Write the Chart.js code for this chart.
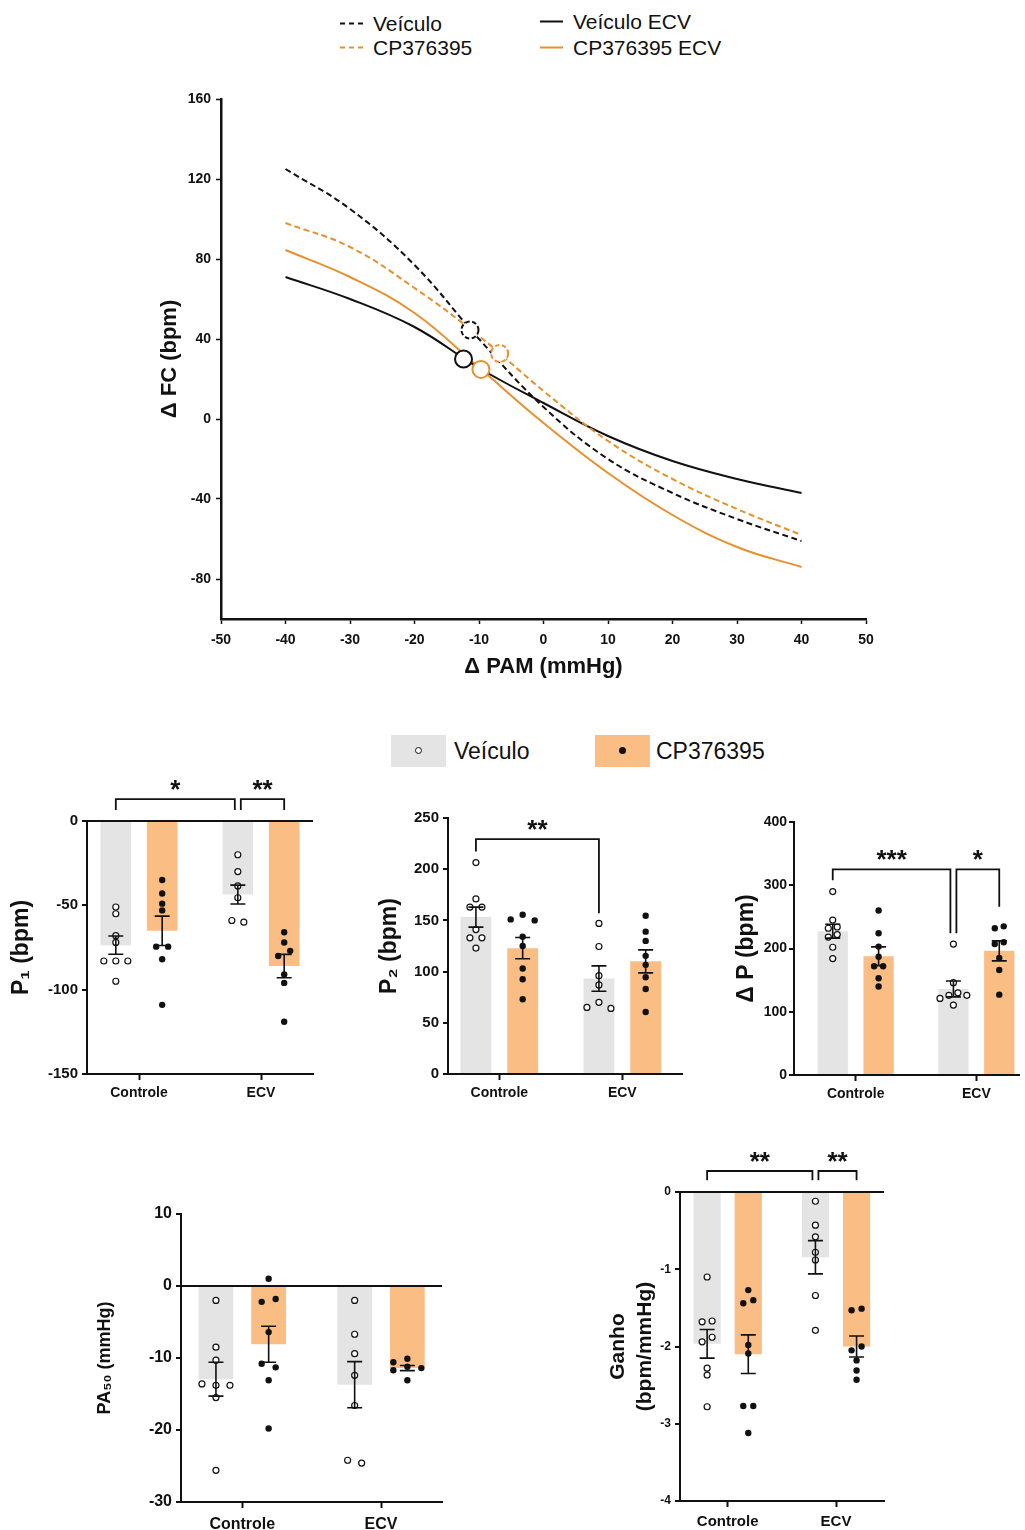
<!DOCTYPE html>
<html lang="pt">
<head>
<meta charset="UTF-8">
<title>Barorreflexo – Veículo vs CP376395</title>
<script src="https://cdn.jsdelivr.net/npm/chart.js"></script>
<style>
  body { margin: 0; background: #fff; }
  #page { position: relative; width: 1025px; height: 1530px; overflow: hidden;
          font-family: "Liberation Sans", Arial, Helvetica, sans-serif; color: #111; }
  canvas { position: absolute; }
  .leg { position: absolute; transform: translateY(-50%); display: flex; align-items: center;
         font-size: 21px; line-height: 1; white-space: nowrap; }
  .leg svg { margin-right: 8px; }
  .sw { position: absolute; width: 55px; height: 32px; }
  .sw i { position: absolute; left: 24px; top: 12px; width: 7px; height: 7px; border-radius: 50%; box-sizing: border-box; }
  .txt2 { position: absolute; transform: translateY(-50%); font-size: 23px; line-height: 1; white-space: nowrap; }
</style>
</head>
<body>
<div id="page">
  <!-- legenda das curvas -->
  <div class="leg" style="left:340px;top:23px"><svg width="25" height="4"><line x1="0" y1="2" x2="25" y2="2" stroke="#111" stroke-width="2" stroke-dasharray="5 4"/></svg><span>Veículo</span></div>
  <div class="leg" style="left:340px;top:47px"><svg width="25" height="4"><line x1="0" y1="2" x2="25" y2="2" stroke="#E8902E" stroke-width="2" stroke-dasharray="5 4"/></svg><span>CP376395</span></div>
  <div class="leg" style="left:540px;top:21px"><svg width="23" height="4" style="margin-right:10px"><line x1="0" y1="2" x2="23" y2="2" stroke="#111" stroke-width="2"/></svg><span>Veículo ECV</span></div>
  <div class="leg" style="left:540px;top:47px"><svg width="23" height="4" style="margin-right:10px"><line x1="0" y1="2" x2="23" y2="2" stroke="#E8902E" stroke-width="2"/></svg><span>CP376395 ECV</span></div>

  <canvas id="curvas"></canvas>

  <!-- legenda das barras -->
  <div class="sw" style="left:391px;top:735px;background:#E4E4E4"><i style="border:1.3px solid #111;background:#fff"></i></div>
  <span class="txt2" style="left:454px;top:751px">Veículo</span>
  <div class="sw" style="left:595px;top:735px;background:#FABE84"><i style="background:#111"></i></div>
  <span class="txt2" style="left:656px;top:751px">CP376395</span>

  <canvas id="p1"></canvas>
  <canvas id="p2"></canvas>
  <canvas id="dp"></canvas>
  <canvas id="pa50"></canvas>
  <canvas id="ganho"></canvas>
</div>

<script>
// ---- curvas sigmoides (ΔFC x ΔPAM) ----
const pamX = [-40, -30, -20, -10, 0, 10, 20, 30, 40];
const fcVeiculo = [125, 105, 77, 40, 6, -20, -37, -50, -61];
const fcCp = [98, 86, 65.5, 41.5, 14, -11, -30, -45, -58];
const fcVeiculoEcv = [71, 60, 46, 25.5, 8, -8.5, -21, -30, -37];
const fcCpEcv = [84.5, 71, 53, 25.7, -2, -27, -48, -64, -74];
const pa50Curva = [-11.4, -6.8, -12.4, -9.7];
const fc50Curva = [44.5, 32.8, 30, 24.8];
const fcTicks = [-80, -40, 0, 40, 80, 120, 160];

// ---- barras: média, EPM e animais (Controle, ECV) ----
const grupos = ['Controle', 'ECV'];

const p1Veiculo = [-73.6, -43.6];
const p1VeiculoEpm = [5.4, 5.6];
const p1Cp = [-65.1, -86.0];
const p1CpEpm = [8.7, 6.9];
const p1VeiculoAnimais = [[-51, -55, -68, -72, -83, -83, -83, -95], [-20, -30, -38.5, -45.5, -60, -59]];
const p1CpAnimais = [[-35, -43, -49, -53, -74.5, -74.5, -82, -109], [-66, -72, -77, -80, -91, -96, -119]];

const p2Veiculo = [153.2, 93.2];
const p2VeiculoEpm = [9.8, 12.4];
const p2Cp = [122.9, 110.0];
const p2CpEpm = [10.4, 11.2];
const p2VeiculoAnimais = [[206.5, 171, 163, 163, 141, 133, 133, 123], [147, 124.5, 96, 87, 70, 65, 64]];
const p2CpAnimais = [[155.5, 151, 150, 134, 125, 103, 92.6, 73], [154.5, 139, 130, 115.4, 106.6, 94.5, 83, 60.6]];

const dpVeiculo = [227.4, 136];
const dpVeiculoEpm = [11, 12.5];
const dpCp = [187.8, 196.3];
const dpCpEpm = [14.8, 15.8];
const dpVeiculoAnimais = [[290, 245, 234, 232, 222, 218, 202, 184], [207, 146, 130, 126, 126, 121, 110.5]];
const dpCpAnimais = [[260, 224, 203, 187, 172, 172, 153, 140], [235, 232, 210, 207, 185, 166, 127]];

const paVeiculo = [-12.95, -13.7];
const paVeiculoEpm = [2.35, 3.2];
const paCp = [-8.1, -11.4];
const paCpEpm = [2.5, 0.35];
const paVeiculoAnimais = [[-2, -8.5, -10.3, -13.8, -13.6, -13.8, -15.5, -25.6], [-2, -6.7, -9.4, -12.4, -16.6, -24.6, -24.2]];
const paCpAnimais = [[1, -1.8, -2.2, -6.4, -11.3, -10.8, -13.1, -19.8], [-10.1, -10.6, -11.2, -11.4, -11.7, -13.1]];

const gVeiculo = [-1.965, -0.845];
const gVeiculoEpm = [0.185, 0.215];
const gCp = [-2.1, -2.0];
const gCpEpm = [0.25, 0.135];
const gVeiculoAnimais = [[-1.1, -1.67, -1.68, -1.88, -1.94, -2.28, -2.37, -2.78], [-0.12, -0.43, -0.58, -0.78, -0.88, -1.34, -1.79]];
const gCpAnimais = [[-1.27, -1.4, -1.44, -1.98, -2.09, -2.77, -2.77, -3.12], [-1.51, -1.53, -2.0, -2.05, -2.18, -2.31, -2.43]];

// barras: 0 = Veículo Controle, 1 = CP Controle, 2 = Veículo ECV, 3 = CP ECV
const p1Sig = [{ a: 0, b: 2, y: 13, legA: 6.5, legB: 6.5, text: '*' }, { a: 2, b: 3, y: 13, legA: 6.5, legB: 6.5, text: '**' }];
const p2Sig = [{ a: 0, b: 2, y: 229.4, legA: 217.3, legB: 157, text: '**' }];
const dpSig = [{ a: 0, b: 2, y: 325, legA: 308, legB: 224, text: '***' }, { a: 2, b: 3, y: 325, legA: 224, legB: 266, text: '*' }];
const gSig = [{ a: 0, b: 2, y: 0.272, legA: 0.151, legB: 0.151, text: '**' }, { a: 2, b: 3, y: 0.272, legA: 0.151, legB: 0.151, text: '**' }];

const BLACK = '#111111';
const ORANGE = '#E8902E';
const GRAY = '#E4E4E4';
const PEACH = '#FABE84';
const CAT_PCT = 0.76;
const BAR_PCT = 0.66;

Chart.defaults.font.family = '"Liberation Sans", Arial, Helvetica, sans-serif';
Chart.defaults.color = BLACK;
Chart.defaults.animation = false;
Chart.defaults.events = [];
Chart.defaults.plugins.legend.display = false;
Chart.defaults.plugins.tooltip.enabled = false;

function place(canvas, left, top, width, height) {
  canvas.width = width;
  canvas.height = height;
  canvas.style.left = left + 'px';
  canvas.style.top = top + 'px';
}

// ---------- curve chart ----------
const dashedMarkers = {
  id: 'dashedMarkers',
  beforeDatasetDraw(chart, args) {
    const ds = chart.data.datasets[args.index];
    if (ds.markerDash) { chart.ctx.save(); chart.ctx.setLineDash(ds.markerDash); }
  },
  afterDatasetDraw(chart, args) {
    if (chart.data.datasets[args.index].markerDash) chart.ctx.restore();
  }
};

const curvas = [
  { label: 'Veículo', y: fcVeiculo, color: BLACK, dash: [6, 3.5] },
  { label: 'CP376395', y: fcCp, color: ORANGE, dash: [6, 3.5] },
  { label: 'Veículo ECV', y: fcVeiculoEcv, color: BLACK, dash: [] },
  { label: 'CP376395 ECV', y: fcCpEcv, color: ORANGE, dash: [] }
];

const curveSets = [];
curvas.forEach((c, i) => {
  curveSets.push({
    type: 'scatter', label: c.label + ' PA50',
    data: [{ x: pa50Curva[i], y: fc50Curva[i] }],
    pointRadius: 8.5, pointBorderWidth: 2, pointBorderColor: c.color, pointBackgroundColor: '#fff',
    markerDash: c.dash.length ? [4.5, 2.5] : null, order: 0
  });
});
curvas.forEach(c => {
  curveSets.push({
    type: 'line', label: c.label,
    data: pamX.map((x, k) => ({ x, y: c.y[k] })),
    borderColor: c.color, borderWidth: 2, borderDash: c.dash,
    pointRadius: 0, tension: 0.4, order: 1
  });
});

const curvasCanvas = document.getElementById('curvas');
place(curvasCanvas, 150, 80, 750, 600);
new Chart(curvasCanvas, {
  type: 'line',
  data: { datasets: curveSets },
  options: {
    responsive: false,
    layout: { padding: { left: 0, top: 19, right: 34, bottom: 0 } },
    scales: {
      x: {
        type: 'linear', min: -50, max: 50,
        ticks: { stepSize: 10, font: { size: 14, weight: 'bold' }, padding: 8, maxRotation: 0 },
        grid: { drawOnChartArea: false, tickLength: 5, tickColor: BLACK, tickWidth: 1.5 },
        border: { color: BLACK, width: 2.5 },
        title: { display: true, text: 'Δ PAM (mmHg)', font: { size: 22, weight: 'bold' }, padding: { top: 0, bottom: 0 } },
        afterFit: s => { s.height = 61; }
      },
      y: {
        type: 'linear', min: -100, max: 160,
        afterBuildTicks: s => { s.ticks = fcTicks.map(v => ({ value: v })); },
        ticks: { font: { size: 14, weight: 'bold' }, padding: 5 },
        grid: { drawOnChartArea: false, tickLength: 5, tickColor: BLACK, tickWidth: 1.5 },
        border: { color: BLACK, width: 2.5 },
        title: { display: true, text: 'Δ FC (bpm)', font: { size: 22, weight: 'bold' }, padding: { top: 6.8, bottom: 0 } },
        afterFit: s => { s.width = 71; }
      }
    }
  },
  plugins: [dashedMarkers]
});

// ---------- bar panels ----------
// spread animals that would overlap into side-by-side columns
function enxame(vals, pxY, step) {
  const GAP = 6.5;
  const pos = [];
  vals.forEach(v => {
    const py = -v * pxY;
    const col = [0, -1, 1, -2, 2, -3, 3].find(k => !pos.some(p => p.col === k && Math.abs(p.py - py) < GAP));
    pos.push({ py, col });
  });
  const idx = pos.map((_, i) => i).sort((a, b) => pos[a].py - pos[b].py);
  let run = [];
  const fechar = () => {
    const cols = run.map(i => pos[i].col);
    const shift = -(Math.min(...cols) + Math.max(...cols)) / 2;
    run.forEach(i => { pos[i].x = (pos[i].col + shift) * step; });
    run = [];
  };
  idx.forEach((i, n) => {
    if (n > 0 && pos[i].py - pos[idx[n - 1]].py >= GAP) fechar();
    run.push(i);
  });
  fechar();
  return pos.map(p => p.x);
}

const errorBars = {
  id: 'errorBars',
  afterDatasetsDraw(chart) {
    const ctx = chart.ctx;
    const ys = chart.scales.y;
    const CAP = 7.5;
    chart.data.datasets.forEach((ds, di) => {
      if (!ds.epm) return;
      chart.getDatasetMeta(di).data.forEach((bar, i) => {
        const m = ds.data[i].y;
        const top = ys.getPixelForValue(m + ds.epm[i]);
        const bot = ys.getPixelForValue(m - ds.epm[i]);
        ctx.save();
        ctx.strokeStyle = BLACK;
        ctx.lineWidth = 1.6;
        ctx.beginPath();
        ctx.moveTo(bar.x, top); ctx.lineTo(bar.x, bot);
        ctx.moveTo(bar.x - CAP, top); ctx.lineTo(bar.x + CAP, top);
        ctx.moveTo(bar.x - CAP, bot); ctx.lineTo(bar.x + CAP, bot);
        ctx.stroke();
        ctx.restore();
      });
    });
  }
};

function colchetes(lista) {
  return {
    id: 'colchetes',
    afterDraw(chart) {
      const ctx = chart.ctx;
      const ys = chart.scales.y;
      const cx = k => chart.getDatasetMeta(k % 2).data[Math.floor(k / 2)].x;
      lista.forEach(s => {
        const x1 = cx(s.a) + (lista.some(o => o !== s && o.b === s.a) ? 3 : 0);
        const x2 = cx(s.b) - (lista.some(o => o !== s && o.a === s.b) ? 3 : 0);
        const y = ys.getPixelForValue(s.y);
        ctx.save();
        ctx.strokeStyle = BLACK;
        ctx.lineWidth = 1.8;
        ctx.beginPath();
        ctx.moveTo(x1, ys.getPixelForValue(s.legA));
        ctx.lineTo(x1, y);
        ctx.lineTo(x2, y);
        ctx.lineTo(x2, ys.getPixelForValue(s.legB));
        ctx.stroke();
        ctx.fillStyle = BLACK;
        ctx.font = 'bold 26px "Liberation Sans", Arial, sans-serif';
        ctx.textAlign = 'center';
        ctx.textBaseline = 'alphabetic';
        ctx.fillText(s.text, (x1 + x2) / 2, y - 16 + 0.57 * 26);
        ctx.restore();
      });
    }
  };
}

function painel(id, geo, cfg) {
  const canvas = document.getElementById(id);
  place(canvas, geo.left, geo.top, geo.width, geo.height);
  const span = geo.c1 - geo.c0;
  const xMin = (geo.x0 - geo.c0) / span;
  const xMax = 1 + (geo.x1 - geo.c1) / span;
  const pxX = (geo.x1 - geo.x0) / (xMax - xMin);
  const pxY = (geo.y1 - geo.y0) / (cfg.max - cfg.min);
  const slot = CAT_PCT / 4;
  const animais = (lista, lado) => lista.flatMap((vals, g) => {
    const off = enxame(vals, pxY, cfg.step);
    return vals.map((v, k) => ({ x: g + lado * slot + off[k] / pxX, y: v }));
  });
  const lh = cfg.titleLH || 1.2;

  new Chart(canvas, {
    type: 'bar',
    data: {
      datasets: [
        { label: 'Veículo', data: cfg.veiculo.map((y, i) => ({ x: i, y })), epm: cfg.veiculoEpm,
          backgroundColor: GRAY, categoryPercentage: CAT_PCT, barPercentage: BAR_PCT, order: 2 },
        { label: 'CP376395', data: cfg.cp.map((y, i) => ({ x: i, y })), epm: cfg.cpEpm,
          backgroundColor: PEACH, categoryPercentage: CAT_PCT, barPercentage: BAR_PCT, order: 2 },
        { type: 'scatter', label: 'Veículo (animais)', data: animais(cfg.veiculoAnimais, -1),
          pointRadius: 3, pointBorderWidth: 1.2, pointBorderColor: BLACK, pointBackgroundColor: '#fff', order: 1 },
        { type: 'scatter', label: 'CP376395 (animais)', data: animais(cfg.cpAnimais, 1),
          pointRadius: 3.2, pointBorderWidth: 0, pointBackgroundColor: BLACK, order: 1 }
      ]
    },
    options: {
      responsive: false,
      layout: { padding: { left: 0, top: geo.y0 - geo.top, right: geo.left + geo.width - geo.x1, bottom: 0 } },
      scales: {
        x: {
          type: 'linear', min: xMin, max: xMax, offset: false,
          afterBuildTicks: s => { s.ticks = grupos.map((g, i) => ({ value: i })); },
          afterFit: s => { s.height = geo.top + geo.height - geo.y1; },
          ticks: { callback: v => grupos[v], font: { size: cfg.xTick, weight: 'bold' }, padding: cfg.xPad || 5, autoSkip: false, maxRotation: 0 },
          grid: { offset: false, drawOnChartArea: false, tickLength: 6, tickColor: BLACK, tickWidth: 2 },
          border: { color: BLACK, width: 2, z: 1 }
        },
        y: {
          min: cfg.min, max: cfg.max,
          ticks: { stepSize: cfg.stepY, font: { size: cfg.yTick, weight: 'bold' }, padding: cfg.yPad || 4 },
          afterFit: s => { s.width = geo.x0 - geo.left; },
          grid: {
            z: 1,
            color: c => (c.tick && c.tick.value === 0 ? BLACK : 'rgba(0,0,0,0)'),
            lineWidth: 2, tickColor: BLACK, tickWidth: 2, tickLength: 5
          },
          border: { color: BLACK, width: 2, z: 1 },
          title: {
            display: true, text: cfg.title,
            font: { size: cfg.titleSize, weight: 'bold', lineHeight: lh },
            padding: { top: cfg.titleX - geo.left - cfg.titleSize * lh / 2, bottom: 0 }
          }
        }
      }
    },
    plugins: [errorBars, colchetes(cfg.sig || [])]
  });
}

painel('p1', { left: 0, top: 770, width: 335, height: 335, x0: 87, x1: 313, y0: 821, y1: 1074, c0: 139, c1: 261 }, {
  veiculo: p1Veiculo, veiculoEpm: p1VeiculoEpm, cp: p1Cp, cpEpm: p1CpEpm,
  veiculoAnimais: p1VeiculoAnimais, cpAnimais: p1CpAnimais, sig: p1Sig,
  min: -150, max: 0, stepY: 50, step: 12, yTick: 15, xTick: 14,
  title: 'P₁ (bpm)', titleSize: 23, titleX: 22
});

painel('p2', { left: 365, top: 770, width: 337, height: 335, x0: 448, x1: 682, y0: 818, y1: 1074, c0: 499.3, c1: 622.3 }, {
  veiculo: p2Veiculo, veiculoEpm: p2VeiculoEpm, cp: p2Cp, cpEpm: p2CpEpm,
  veiculoAnimais: p2VeiculoAnimais, cpAnimais: p2CpAnimais, sig: p2Sig,
  min: 0, max: 250, stepY: 50, step: 12, yTick: 15, xTick: 14,
  title: 'P₂ (bpm)', titleSize: 23, titleX: 390
});

painel('dp', { left: 725, top: 770, width: 300, height: 335, x0: 794, x1: 1021, y0: 822, y1: 1075, c0: 856, c1: 977.3 }, {
  veiculo: dpVeiculo, veiculoEpm: dpVeiculoEpm, cp: dpCp, cpEpm: dpCpEpm,
  veiculoAnimais: dpVeiculoAnimais, cpAnimais: dpCpAnimais, sig: dpSig,
  min: 0, max: 400, stepY: 100, step: 9, yTick: 14, xTick: 14, yPad: 2,
  title: 'Δ P (bpm)', titleSize: 23, titleX: 747
});

painel('pa50', { left: 80, top: 1180, width: 380, height: 350, x0: 181, x1: 442, y0: 1214, y1: 1502, c0: 242.3, c1: 381 }, {
  veiculo: paVeiculo, veiculoEpm: paVeiculoEpm, cp: paCp, cpEpm: paCpEpm,
  veiculoAnimais: paVeiculoAnimais, cpAnimais: paCpAnimais,
  min: -30, max: 10, stepY: 10, step: 14, yTick: 16, xTick: 16, xPad: 7,
  title: 'PA₅₀ (mmHg)', titleSize: 18, titleX: 105
});

painel('ganho', { left: 595, top: 1140, width: 310, height: 390, x0: 680, x1: 884, y0: 1192, y1: 1501, c0: 727.7, c1: 836 }, {
  veiculo: gVeiculo, veiculoEpm: gVeiculoEpm, cp: gCp, cpEpm: gCpEpm,
  veiculoAnimais: gVeiculoAnimais, cpAnimais: gCpAnimais, sig: gSig,
  min: -4, max: 0, stepY: 1, step: 10, yTick: 12, xTick: 15, xPad: 6,
  title: ['Ganho', '(bpm/mmHg)'], titleSize: 21, titleLH: 1.3, titleX: 618
});
</script>
</body>
</html>
